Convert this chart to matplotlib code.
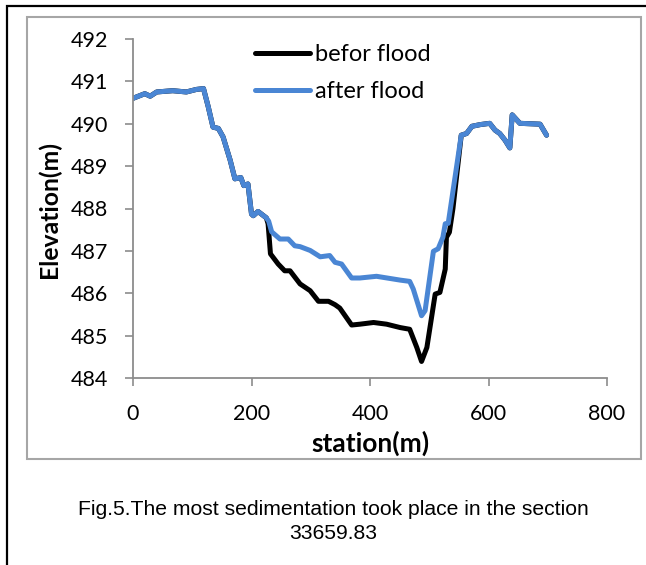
import matplotlib
matplotlib.use("Agg")
import matplotlib.pyplot as plt
from matplotlib.patches import Rectangle

# ---- data ----
after_x = [0, 20, 29, 40, 67, 90, 107, 119, 127, 135, 144, 152, 164, 172, 182, 187, 194, 200,
           203, 211, 225, 229, 234, 248, 262, 273, 282, 299, 316, 332, 341, 352, 369, 383, 411,
           451, 467, 473, 487, 493, 507, 515, 523, 527, 532, 554, 563, 572, 586, 602, 611, 619,
           628, 636, 640, 653, 687, 698]
after_y = [490.60, 490.71, 490.65, 490.75, 490.78, 490.75, 490.81, 490.83, 490.40, 489.92, 489.89,
           489.69, 489.14, 488.70, 488.73, 488.54, 488.58, 487.87,
           487.83, 487.93, 487.78, 487.70, 487.45, 487.28, 487.28, 487.12, 487.10, 487.01, 486.86,
           486.89, 486.73, 486.69, 486.36, 486.36, 486.40,
           486.31, 486.28, 486.10, 485.47, 485.59, 486.99, 487.05, 487.32, 487.64, 487.65, 489.73,
           489.77, 489.94, 489.98, 490.01, 489.85, 489.77,
           489.61, 489.43, 490.21, 490.01, 489.99, 489.73]

before_x = [0, 20, 29, 40, 67, 90, 107, 119, 127, 135, 144, 152, 164, 172, 182, 187, 194, 200,
            203, 211, 225, 228, 232, 245, 256, 265, 282, 299, 313, 330, 341, 349, 369, 383, 406,
            428, 451, 467, 479, 487, 496, 510, 518, 527, 529, 534, 540, 554, 563, 572, 586, 602,
            611, 619, 628, 636, 640, 653, 687, 698]
before_y = [490.60, 490.71, 490.65, 490.75, 490.78, 490.75, 490.81, 490.83, 490.40, 489.92, 489.89,
            489.69, 489.14, 488.70, 488.73, 488.54, 488.58, 487.87,
            487.83, 487.93, 487.78, 487.64, 486.93, 486.69, 486.53, 486.53, 486.22, 486.06, 485.81,
            485.81, 485.73, 485.65, 485.25, 485.27, 485.31,
            485.27, 485.19, 485.15, 484.72, 484.39, 484.72, 485.98, 486.02, 486.57, 487.32, 487.44,
            488.00, 489.73, 489.77, 489.94, 489.98, 490.01,
            489.85, 489.77, 489.61, 489.43, 490.21, 490.01, 489.99, 489.73]

x_ticks = [0, 200, 400, 600, 800]
y_ticks = [484, 485, 486, 487, 488, 489, 490, 491, 492]
series_labels = ["befor flood", "after flood"]
x_label = "station(m)"
y_label = "Elevation(m)"
caption = "Fig.5.The most sedimentation took place in the section\n33659.83"

# ---- figure ----
W, H = 646, 565
fig = plt.figure(figsize=(W / 100, H / 100), dpi=100)
fig.patch.set_facecolor("white")

def fx(px):
    return px / W

def fy(py):
    return 1 - py / H

# outer black frame (clipped on right/bottom)
fig.add_artist(Rectangle((fx(7), fy(700)), fx(700), fy(6) - fy(700), fill=False,
                         edgecolor="black", linewidth=1.6, transform=fig.transFigure))
# inner gray chart box
fig.add_artist(Rectangle((fx(27), fy(459)), fx(641) - fx(27), fy(17) - fy(459), fill=False,
                         edgecolor="#a6a6a6", linewidth=1.5, transform=fig.transFigure))

ax = fig.add_axes([fx(133), fy(378), fx(607) - fx(133), fy(39) - fy(378)])
blue = "#4a86d4"
ax.plot(before_x, before_y, color="black", linewidth=3.6, solid_joinstyle="round",
        solid_capstyle="round", label=series_labels[0])
ax.plot(after_x, after_y, color=blue, linewidth=3.6, solid_joinstyle="round",
        solid_capstyle="round", label=series_labels[1])

ax.set_xlim(0, 800)
ax.set_ylim(484, 492)
ax.set_xticks(x_ticks)
ax.set_yticks(y_ticks)
ax.set_xticklabels([str(v) for v in x_ticks])
ax.set_yticklabels([str(v) for v in y_ticks])

for s in ["top", "right"]:
    ax.spines[s].set_visible(False)
for s in ["left", "bottom"]:
    ax.spines[s].set_color("#8c8c8c")
    ax.spines[s].set_linewidth(1.3)

ax.tick_params(axis="both", direction="out", length=5.5, width=1.2, color="#8c8c8c",
               labelcolor="black", labelsize=15.5)
ax.tick_params(axis="y", pad=12.5)
ax.tick_params(axis="x", pad=13)
for lab in ax.get_xticklabels() + ax.get_yticklabels():
    lab.set_family("Lato")

ax.set_xlabel(x_label, family="Lato", fontsize=19, fontweight="bold", va="center")
ax.set_ylabel(y_label, family="Lato", fontsize=17.8, fontweight="bold", va="center")
ax.xaxis.set_label_coords(0.5, (378 - 443) / 339)
ax.yaxis.set_label_coords((49 - 133) / 474, (378 - 210) / 339)

leg = ax.legend(loc="upper left", bbox_to_anchor=((255 - 133) / 474, 0.985),
                frameon=False, handlelength=2.33, handletextpad=0.21, labelspacing=0.67,
                borderpad=0, borderaxespad=0, prop=dict(family="Lato", size=17))

fig.text(fx(333), fy(521.5), caption, ha="center", va="center", family="Liberation Sans",
         fontsize=15.2, linespacing=1.28)

fig.savefig("out.png", dpi=100, facecolor="white")
